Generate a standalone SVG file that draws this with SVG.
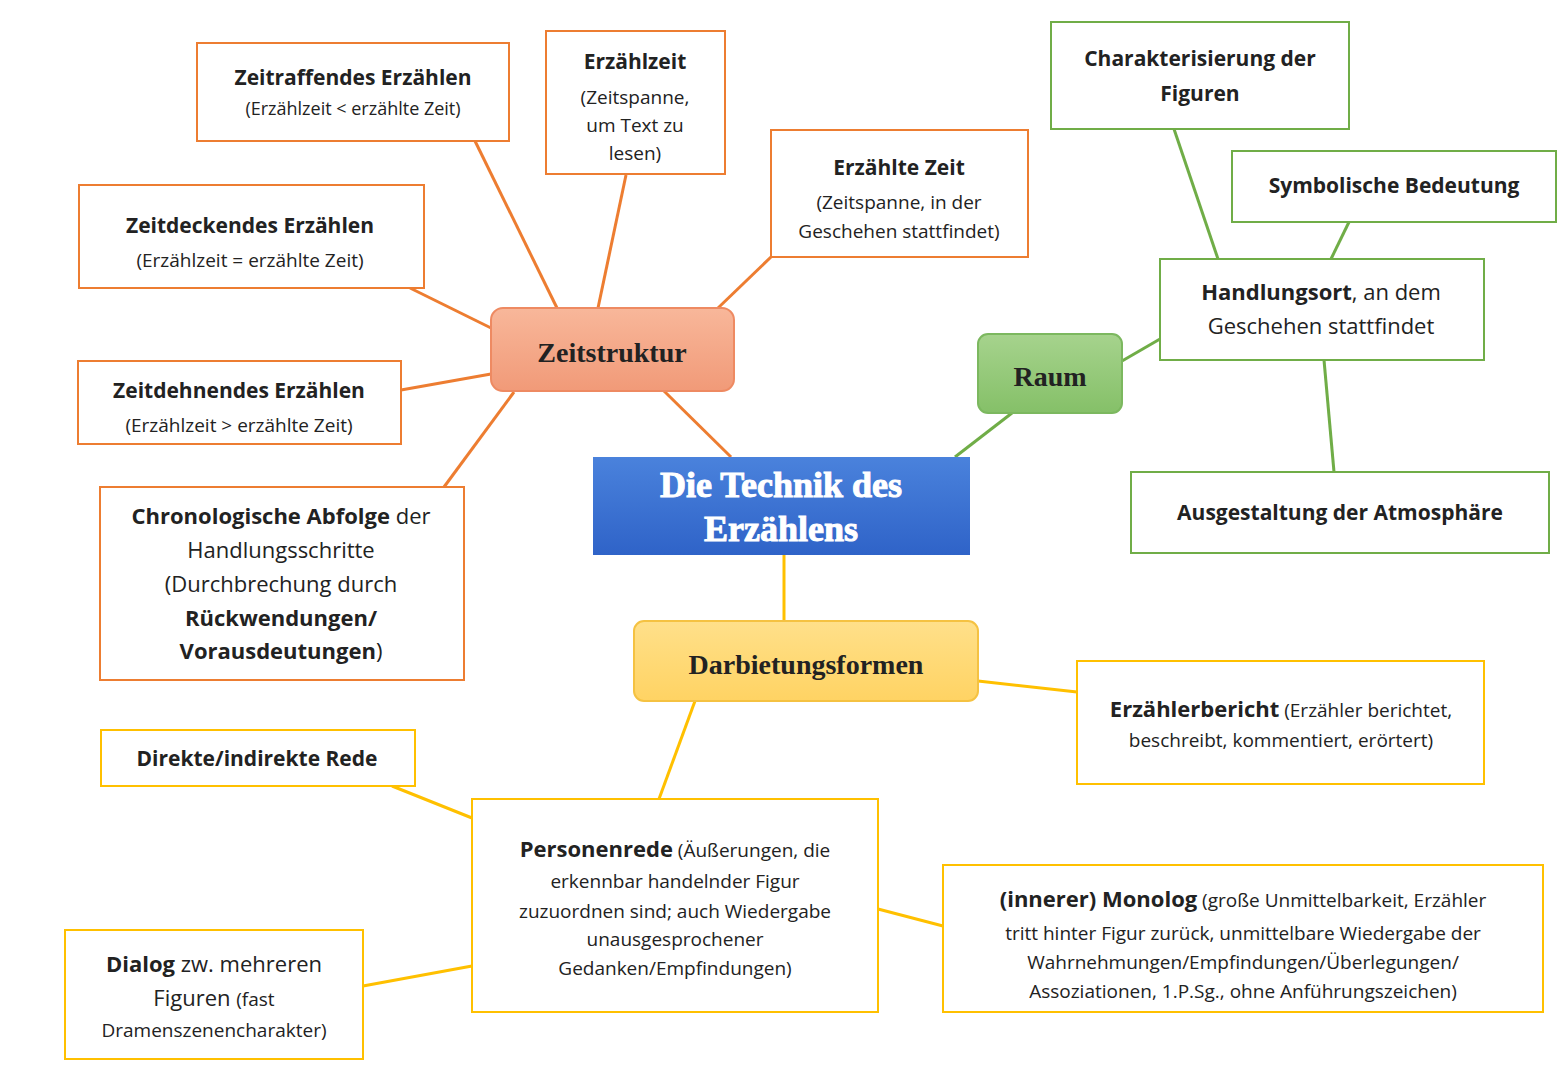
<svg xmlns="http://www.w3.org/2000/svg" width="1560" height="1080" viewBox="0 0 1560 1080">
<defs>
<linearGradient id="gO" x1="0" y1="0" x2="0" y2="1"><stop offset="0" stop-color="#f8b79a"/><stop offset="1" stop-color="#f19a78"/></linearGradient>
<linearGradient id="gB" x1="0" y1="0" x2="0" y2="1"><stop offset="0" stop-color="#4a82dc"/><stop offset="1" stop-color="#2f63c8"/></linearGradient>
<linearGradient id="gG" x1="0" y1="0" x2="0" y2="1"><stop offset="0" stop-color="#a6d38d"/><stop offset="1" stop-color="#85c068"/></linearGradient>
<linearGradient id="gY" x1="0" y1="0" x2="0" y2="1"><stop offset="0" stop-color="#ffe08a"/><stop offset="1" stop-color="#ffd363"/></linearGradient>
</defs>
<style>
text{font-family:"Open Sans","Liberation Sans",sans-serif;fill:#222;text-anchor:middle;font-size:19px}
.b{font-weight:bold;font-size:21px}
.s{font-size:18px}
.o{fill:#fff;stroke:#ed7d31;stroke-width:2}
.g{fill:#fff;stroke:#70ad47;stroke-width:2}
.y{fill:#fff;stroke:#ffc000;stroke-width:2}
.h{font-family:"Liberation Serif",serif;font-weight:bold;font-size:28px}
.c line{stroke-width:3}
</style>
<rect width="1560" height="1080" fill="#fff"/>
<g class="c">
<g stroke="#ed7d31">
<line x1="475" y1="141" x2="557" y2="308"/><line x1="626" y1="175" x2="598" y2="308"/>
<line x1="771" y1="257" x2="718" y2="308"/><line x1="410" y1="288" x2="491" y2="328"/>
<line x1="401" y1="390" x2="491" y2="374"/><line x1="444" y1="487" x2="514" y2="392"/>
<line x1="664" y1="391" x2="731" y2="457"/>
</g>
<g stroke="#70ad47">
<line x1="955" y1="457" x2="1012" y2="413"/><line x1="1122" y1="361" x2="1160" y2="339"/>
<line x1="1174" y1="129" x2="1218" y2="259"/><line x1="1349" y1="222" x2="1331" y2="259"/>
<line x1="1324" y1="360" x2="1334" y2="472"/>
</g>
<g stroke="#ffc000">
<line x1="784" y1="555" x2="784" y2="621"/><line x1="978" y1="681" x2="1077" y2="692"/>
<line x1="695" y1="701" x2="659" y2="799"/><line x1="392" y1="786" x2="472" y2="818"/>
<line x1="363" y1="986" x2="472" y2="966"/><line x1="878" y1="909" x2="943" y2="926"/>
</g>
</g>
<g id="zeitraffend"><rect class="o" x="197" y="43" width="312" height="98"/><text x="353" y="85" class="b">Zeitraffendes Erzählen</text><text x="353" y="115" class="s">(Erzählzeit &lt; erzählte Zeit)</text></g>
<g id="erzaehlzeit"><rect class="o" x="546" y="31" width="179" height="143"/><text x="635" y="69" class="b">Erzählzeit</text><text x="635" y="104">(Zeitspanne,</text><text x="635" y="132">um Text zu</text><text x="635" y="160">lesen)</text></g>
<g id="erzaehltezeit"><rect class="o" x="771" y="130" width="257" height="127"/><text x="899" y="175" class="b">Erzählte Zeit</text><text x="899" y="209">(Zeitspanne, in der</text><text x="899" y="238">Geschehen stattfindet)</text></g>
<g id="zeitdeckend"><rect class="o" x="79" y="185" width="345" height="103"/><text x="250" y="233" class="b">Zeitdeckendes Erzählen</text><text x="250" y="267">(Erzählzeit = erzählte Zeit)</text></g>
<g id="zeitdehnend"><rect class="o" x="78" y="361" width="323" height="83"/><text x="239" y="398" class="b">Zeitdehnendes Erzählen</text><text x="239" y="432">(Erzählzeit &gt; erzählte Zeit)</text></g>
<g id="chrono"><rect class="o" x="100" y="487" width="364" height="193"/>
<text x="281" y="524" style="font-size:22px"><tspan font-weight="bold">Chronologische Abfolge</tspan> der</text>
<text x="281" y="558" style="font-size:22px">Handlungsschritte</text>
<text x="281" y="592" style="font-size:22px">(Durchbrechung durch</text>
<text x="281" y="626" style="font-size:22px" font-weight="bold">Rückwendungen/</text>
<text x="281" y="659" style="font-size:22px"><tspan font-weight="bold">Vorausdeutungen</tspan>)</text></g>
<g id="zeitstruktur"><rect x="491" y="308" width="243" height="83" rx="12" fill="url(#gO)" stroke="#ee8a62" stroke-width="2"/><text x="612" y="362" class="h">Zeitstruktur</text></g>
<g id="center"><rect x="593" y="457" width="377" height="98" fill="url(#gB)"/><text x="781" y="497" class="h" style="fill:#fff;font-size:36px;stroke:#fff;stroke-width:1">Die Technik des</text><text x="781" y="541" class="h" style="fill:#fff;font-size:36px;stroke:#fff;stroke-width:1">Erzählens</text></g>
<g id="raum"><rect x="978" y="334" width="144" height="79" rx="10" fill="url(#gG)" stroke="#7cb85f" stroke-width="2"/><text x="1050" y="386" class="h">Raum</text></g>
<g id="charakter"><rect class="g" x="1051" y="22" width="298" height="107"/><text x="1200" y="66" class="b">Charakterisierung der</text><text x="1200" y="101" class="b">Figuren</text></g>
<g id="symbol"><rect class="g" x="1232" y="151" width="324" height="71"/><text x="1394" y="193" class="b">Symbolische Bedeutung</text></g>
<g id="handlungsort"><rect class="g" x="1160" y="259" width="324" height="101"/><text x="1321" y="300" style="font-size:22px"><tspan font-weight="bold">Handlungsort</tspan>, an dem</text><text x="1321" y="334" style="font-size:22px">Geschehen stattfindet</text></g>
<g id="atmosphaere"><rect class="g" x="1131" y="472" width="418" height="81"/><text x="1340" y="520" class="b">Ausgestaltung der Atmosphäre</text></g>
<g id="darbietung"><rect x="634" y="621" width="344" height="80" rx="10" fill="url(#gY)" stroke="#f5c242" stroke-width="2"/><text x="806" y="674" class="h">Darbietungsformen</text></g>
<g id="bericht"><rect class="y" x="1077" y="661" width="407" height="123"/><text x="1281" y="717"><tspan font-weight="bold" font-size="22">Erzählerbericht</tspan> (Erzähler berichtet,</text><text x="1281" y="747">beschreibt, kommentiert,  erörtert)</text></g>
<g id="direkt"><rect class="y" x="101" y="730" width="314" height="56"/><text x="257" y="766" class="b">Direkte/indirekte Rede</text></g>
<g id="personenrede"><rect class="y" x="472" y="799" width="406" height="213"/>
<text x="675" y="857"><tspan font-weight="bold" font-size="22">Personenrede</tspan> (Äußerungen, die</text>
<text x="675" y="888">erkennbar handelnder Figur</text>
<text x="675" y="918">zuzuordnen  sind; auch Wiedergabe</text>
<text x="675" y="946">unausgesprochener</text>
<text x="675" y="975">Gedanken/Empfindungen)</text></g>
<g id="monolog"><rect class="y" x="943" y="865" width="600" height="147"/>
<text x="1243" y="907"><tspan font-weight="bold" font-size="22">(innerer) Monolog</tspan> (große Unmittelbarkeit,  Erzähler</text>
<text x="1243" y="940">tritt hinter Figur zurück, unmittelbare Wiedergabe der</text>
<text x="1243" y="969">Wahrnehmungen/Empfindungen/Überlegungen/</text>
<text x="1243" y="998">Assoziationen, 1.P.Sg., ohne Anführungszeichen)</text></g>
<g id="dialog"><rect class="y" x="65" y="930" width="298" height="129"/>
<text x="214" y="972" style="font-size:22px"><tspan font-weight="bold">Dialog</tspan> zw. mehreren</text>
<text x="214" y="1006" style="font-size:22px">Figuren <tspan font-size="19">(fast</tspan></text>
<text x="214" y="1037">Dramenszenencharakter)</text></g>
</svg>
